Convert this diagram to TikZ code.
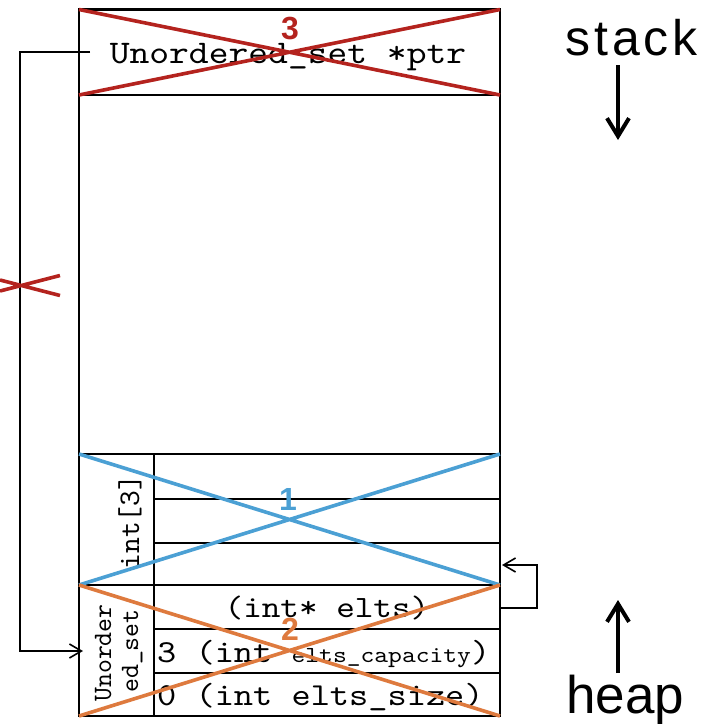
\documentclass[tikz,border=0pt]{standalone}
\usepackage{fontspec}
\setmainfont{Liberation Sans}
\setmonofont[FakeStretch=1.143]{lmmono10-regular.otf}
\newfontfamily\plainmono{lmmono10-regular.otf}
\newfontfamily\spacedsans[LetterSpace=8]{Liberation Sans}
\usetikzlibrary{arrows.meta}
\definecolor{xred}{RGB}{180,35,30}
\definecolor{xblue}{RGB}{75,160,212}
\definecolor{xorange}{RGB}{222,122,62}
\tikzset{
  cellline/.style={line width=2.4pt, black},
  crossline/.style={line width=3.6pt},
  ptrline/.style={line width=1.6pt, -{Straight Barb[length=12pt,width=14pt]}},
  growline/.style={line width=4pt, -{Straight Barb[length=18pt,width=22pt]}},
  monotext/.style={inner sep=0pt, font=\ttfamily\fontsize{32}{36}\selectfont},
  sidetext/.style={inner sep=0pt, rotate=90, anchor=base},
  numlabel/.style={inner sep=0pt, font=\bfseries\fontsize{32}{32}\selectfont},
}
\begin{document}
\begin{tikzpicture}[x=1pt,y=-1pt]
\useasboundingbox (0,0) rectangle (726,728);
% memory column
\draw[cellline] (79,9.5) rectangle (500,716);
\draw[cellline] (79,95) -- (500,95);
\draw[cellline] (79,454) -- (500,454);
\draw[cellline] (79,585) -- (500,585);
\draw[cellline] (154,454) -- (154,716);
\draw[cellline] (154,499) -- (500,499);
\draw[cellline] (154,543) -- (500,543);
\draw[cellline] (154,629) -- (500,629);
\draw[cellline] (154,673) -- (500,673);
% texts
\node[monotext, anchor=base, font=\ttfamily\fontsize{33}{36}\selectfont] (ptrtext) at (288,63) {Unordered\_set *ptr};
\node[monotext, anchor=base, font=\ttfamily\fontsize{31}{36}\selectfont] (eltstext) at (327,617) {(int* elts)};
\node[monotext, anchor=base west] (captext) at (157,662) {3 (int {\fontsize{23}{26}\selectfont elts\_capacity})};
\node[monotext, anchor=base west] (sizetext) at (157,705) {0 (int elts\_size)};
\node[sidetext, font=\plainmono\fontsize{30}{32}\selectfont] (arrtext) at (139,522) {int[3]};
\node[sidetext, font=\plainmono\fontsize{26.5}{28}\selectfont] (setA) at (111,653) {Unorder};
\node[sidetext, font=\plainmono\fontsize{26.5}{28}\selectfont] (setB) at (138,651) {ed\_set};
% stack / heap
\node[inner sep=0pt, anchor=base west, font=\spacedsans\fontsize{50}{52}\selectfont] (stack) at (565,55) {stack};
\node[inner sep=0pt, anchor=base west, font=\fontsize{53}{56}\selectfont] (heap) at (566,713) {heap};
\coordinate (stackA) at (618,65);
\coordinate (stackB) at (618,140);
\coordinate (heapA) at (618,673);
\coordinate (heapB) at (618,600);
\draw[growline] (stackA) -- (stackB);
\draw[growline] (heapA) -- (heapB);
% pointer connectors
\coordinate (ptrsrc) at (90,52);
\coordinate (rail) at (20,52);
\coordinate (setdst) at (83,651);
\draw[ptrline] (ptrsrc) -- (rail) |- (setdst);
\coordinate (eltsout) at (500,608);
\coordinate (loopx) at (537,608);
\coordinate (arrin) at (502,565);
\draw[ptrline] (eltsout) -- (loopx) |- (arrin);
% crosses
\draw[crossline, xred] (0,280) -- (60,295.5) (0,291) -- (60,275.5);
\draw[crossline, xred] (79,9.5) -- (500,95) (79,95) -- (500,9.5);
\draw[crossline, xblue] (79,454) -- (500,585) (79,585) -- (500,454);
\draw[crossline, xorange] (79,585) -- (500,716) (79,716) -- (500,585);
\node[numlabel, text=xred] (n3) at (290,29) {3};
\node[numlabel, text=xblue] (n1) at (288,499) {1};
\node[numlabel, text=xorange] (n2) at (290,629) {2};
\end{tikzpicture}
\end{document}
